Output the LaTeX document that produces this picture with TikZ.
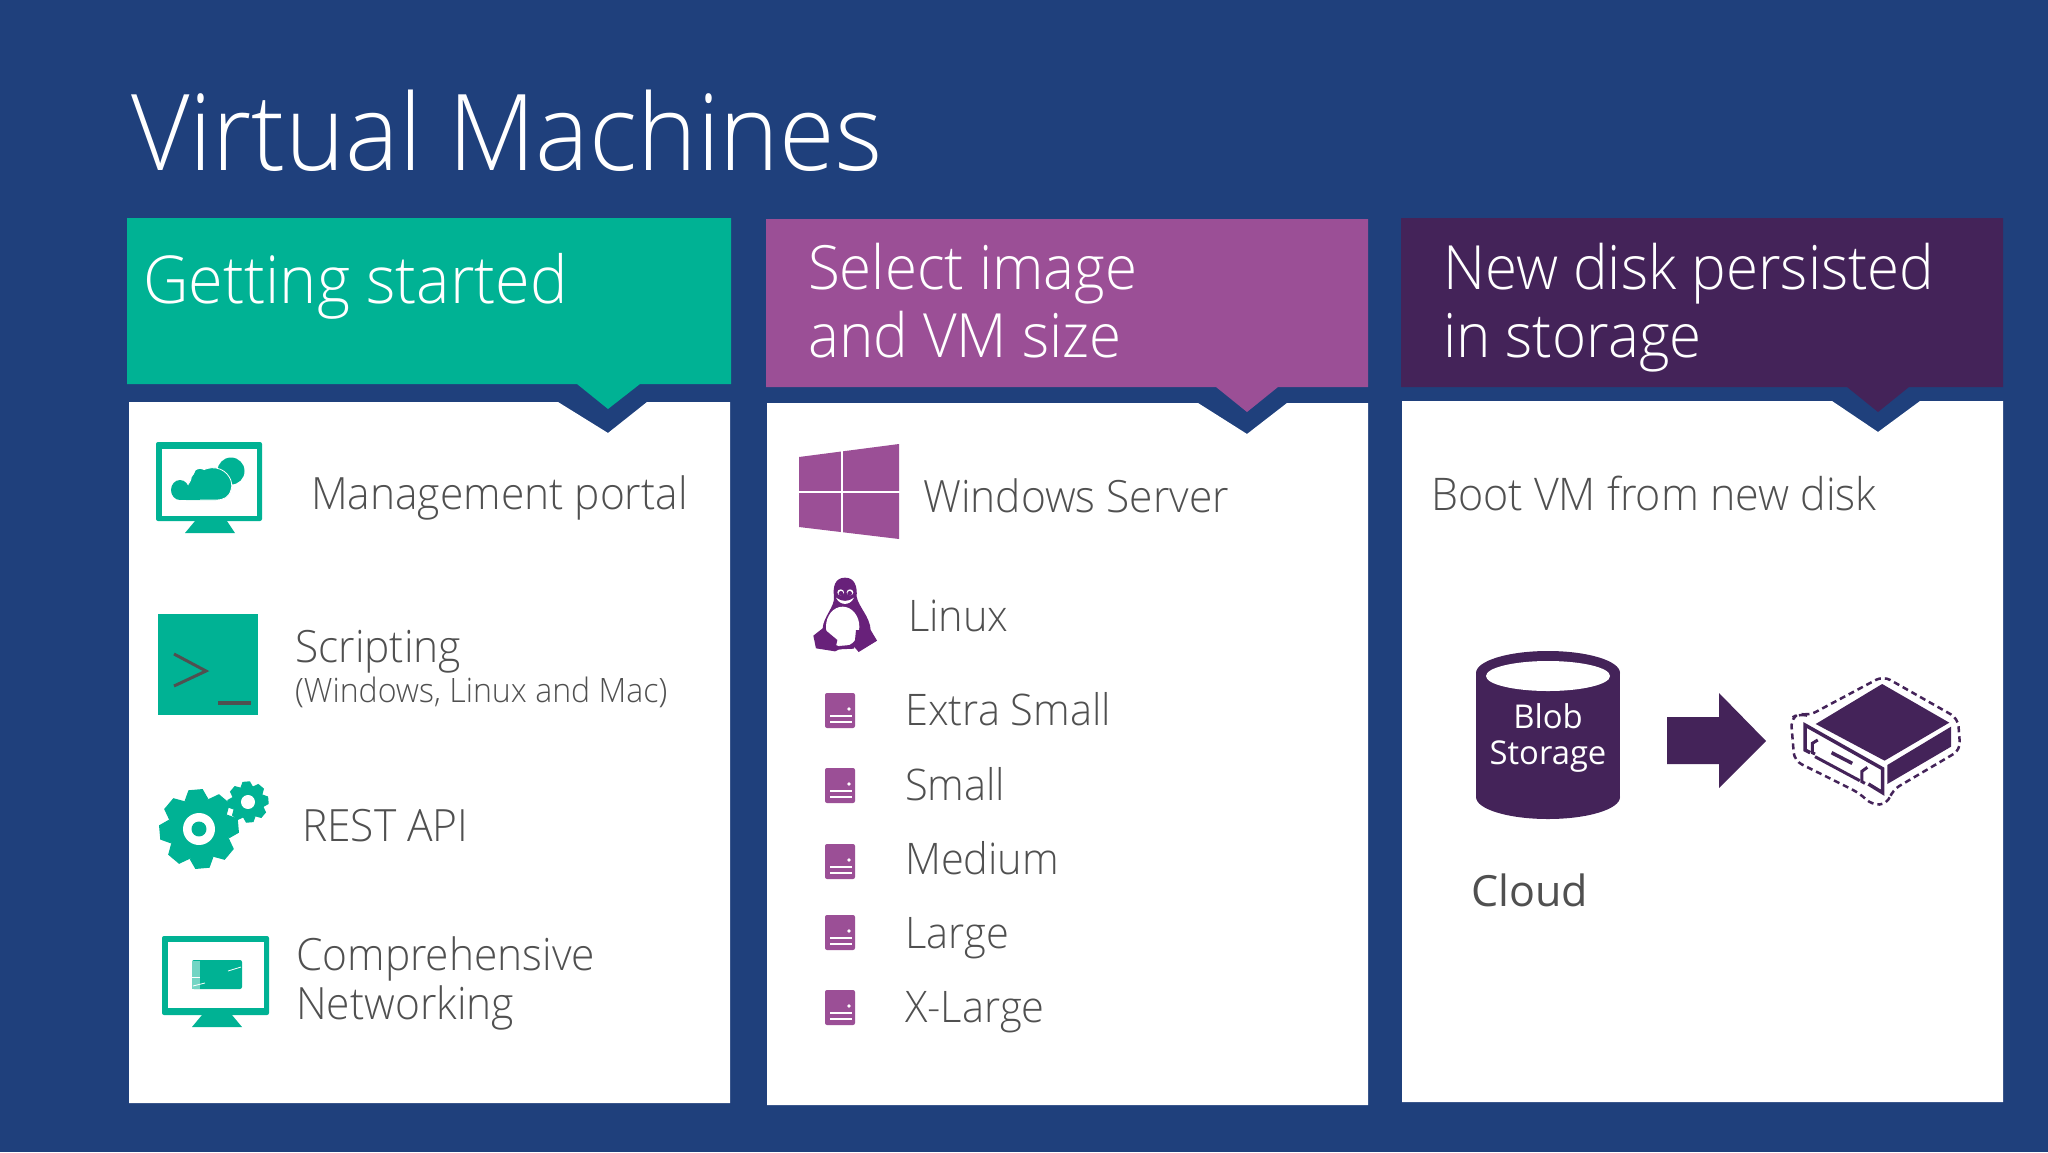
\documentclass[tikz,border=0pt]{standalone}
\usepackage{fontspec}
\usetikzlibrary{positioning}
\setmainfont{Open Sans}
\newfontfamily\lightfont[FakeStretch=0.955]{Open Sans Light}
\definecolor{slidebg}{RGB}{31,64,124}
\definecolor{tealc}{RGB}{0,178,148}
\definecolor{violetc}{RGB}{155,79,150}
\definecolor{plumc}{RGB}{68,35,89}
\definecolor{tuxc}{RGB}{104,33,122}
\definecolor{greytxt}{RGB}{80,80,80}

% gear: x, y, outer radius, hole radius, centre radius
\newcommand{\cog}[5]{
    \begin{scope}[shift={(#1,#2)},rotate=5]
        \fill [tealc] (0,0) circle (#3*0.78);
        \foreach \a in {0,45,...,315}
            \fill [tealc,rotate=\a] (-#3*0.31,#3*0.72) -- (-#3*0.18,#3) -- (#3*0.18,#3) -- (#3*0.31,#3*0.72) -- cycle;
        \fill [white] (0,0) circle (#4);
        \fill [tealc] (0,0) circle (#5);
    \end{scope}
}

\begin{document}
\begin{tikzpicture}[x=1pt,y=-1pt,line join=miter]
    \tikzstyle{title} = [inner sep=0,anchor=base west,text=white,font=\lightfont\fontsize{106}{106}\selectfont]
    \tikzstyle{head} = [inner sep=0,anchor=base west,align=left,text=white,font=\lightfont\fontsize{66}{68}\selectfont]
    \tikzstyle{headtwo} = [inner sep=0,anchor=north west,align=left,text=white,font=\lightfont\fontsize{61}{68}\selectfont]
    \tikzstyle{entry} = [inner sep=0,anchor=base west,align=left,text=greytxt,font=\lightfont\fontsize{44.5}{49}\selectfont]
    \tikzstyle{sizes} = [inner sep=0,anchor=base west,text=greytxt,font=\lightfont\fontsize{43.5}{49}\selectfont]
    \tikzstyle{small} = [inner sep=0,anchor=base west,text=greytxt,font=\lightfont\fontsize{33.6}{34}\selectfont]
    \tikzstyle{label} = [inner sep=0,anchor=base,text=white,font=\fontsize{32.8}{33}\selectfont]

    \useasboundingbox (0,0) rectangle (2048,1152);
    \fill [slidebg] (0,0) rectangle (2048,1152);

    \node (heading) [title] at (131,170) {Virtual Machines};

    % column headers
    \fill [tealc] (127,218) -- (731,218) -- (731,384) -- (640,384) -- (608,409) -- (577,384) -- (127,384) -- cycle;
    \fill [violetc] (766,219) -- (1368,219) -- (1368,387) -- (1278,387) -- (1247,412) -- (1216,387) -- (766,387) -- cycle;
    \fill [plumc] (1401,218) -- (2003,218) -- (2003,387) -- (1909,387) -- (1878,412) -- (1847,387) -- (1401,387) -- cycle;

    % white cards
    \fill [white] (129,402) -- (558,402) -- (608,433) -- (647,402) -- (730,402) -- (730,1103) -- (129,1103) -- cycle;
    \fill [white] (767,403) -- (1198,403) -- (1247,434) -- (1287,403) -- (1368,403) -- (1368,1105) -- (767,1105) -- cycle;
    \fill [white] (1402,401) -- (1832,401) -- (1878,432) -- (1920,401) -- (2003,401) -- (2003,1102) -- (1402,1102) -- cycle;

    \node (started) [head] at (143,303) {Getting started};
    \node (select) [headtwo] at (808,243) {Select image\\and VM size};
    \node (persist) [headtwo] at (1443,243) {New disk persisted\\in storage};

    % first column
    \node (portal) [entry] at (311,509) {Management portal};
    \node (script) [entry] at (295,662) {Scripting};
    \node (oses) [small] at (295,702) {(Windows, Linux and Mac)};
    \node (rest) [entry] at (302,841) {REST API};
    \node (network) [entry,anchor=north west] at (296,936) {Comprehensive\\Networking};

    % monitor with clouds
    \fill [tealc,rounded corners=2pt] (156,442) rectangle (262,521);
    \fill [white] (162,449) rectangle (257,516);
    \fill [tealc] (195,521) -- (227,521) -- (235,533) -- (185,533) -- cycle;
    \fill [tealc] (231,471) circle (13.5);
    \draw [white,fill=tealc,line width=0.8pt] (186,490) .. controls (190,475) and (205,466) .. (216,468) .. controls (228,470) and (234,482) .. (231,490) .. controls (229,497) and (224,500) .. (216,500) -- (186,500) -- cycle;
    \fill [tealc] (180,490) ellipse (9 and 10);
    \fill [tealc] (180,487) rectangle (200,500);
    \fill [tealc] (200,481) circle (9);
    \fill [tealc] (200,474) ellipse (6 and 5);

    % terminal
    \fill [tealc] (158,614) rectangle (258,715);
    \draw [greytxt,line width=3pt] (174,654) -- (206,671) -- (174,686);
    \draw [greytxt,line width=4pt] (218,703) -- (251,703);

    % gears
    \cog{199}{829}{39.5}{16}{7.5}
    \cog{248}{802}{20.5}{7}{0}

    % monitor with network card
    \fill [tealc,rounded corners=2pt] (162,936) rectangle (269,1015);
    \fill [white] (168,942) rectangle (264,1008);
    \fill [tealc] (202,1015) -- (232,1015) -- (242,1027) -- (192,1027) -- cycle;
    \fill [tealc,rounded corners=2pt] (192,960) rectangle (242,989);
    \fill [tealc!55!white] (192,961) rectangle (200,989);
    \draw [white,line width=0.8pt] (228,971) -- (241,967);
    \draw [white,line width=0.8pt] (192,977) -- (200,977);
    \draw [white,line width=0.8pt] (193,986) -- (205,983);

    % second column
    \node (windows) [entry] at (923,512) {Windows Server};
    \node (linux) [sizes] at (908,631) {Linux};
    \node (xsmall) [sizes] at (905,725) {Extra Small};
    \node (small) [sizes] at (905,800) {Small};
    \node (medium) [sizes] at (905,874) {Medium};
    \node (large) [sizes] at (905,948) {Large};
    \node (xlarge) [sizes] at (905,1022) {X-Large};

    % windows logo
    \fill [violetc] (799,457) -- (899,444) -- (899,539) -- (799,527) -- cycle;
    \draw [white,line width=2pt] (842,440) -- (842,545);
    \draw [white,line width=2pt] (795,492) -- (903,492);

    % penguin
    \begin{scope}[shift={(780,430)},scale=1/3]
        \fill [tuxc] (195,443) .. controls (225,443) and (232,470) .. (230,500) .. controls (235,530) and (270,560) .. (272,600) -- (291,632) -- (236,666) -- (224,652) -- (178,658) -- (165,664) -- (108,655) -- (100,617) -- (128,595) .. controls (130,560) and (165,530) .. (162,500) .. controls (158,470) and (165,443) .. (195,443) -- cycle;
        \fill [white] (188,590) ellipse (50 and 60);
        \fill [tuxc] (136,600) -- (104,620) -- (108,652) -- (165,662) -- (172,630) -- cycle;
        \fill [tuxc] (228,600) -- (270,600) -- (290,632) -- (236,664) -- (224,640) -- cycle;
        \fill [tuxc] (178,648) -- (222,644) -- (222,656) -- (178,658) -- cycle;
        \fill [white] (182,487) ellipse (10 and 9);
        \fill [white] (210,487) ellipse (10 and 9);
        \fill [tuxc] (183,490) ellipse (7 and 7);
        \fill [tuxc] (209,490) ellipse (7 and 7);
        \fill [white] (168,503) .. controls (185,516) and (205,516) .. (222,503) .. controls (210,528) and (180,528) .. (168,503) -- cycle;
    \end{scope}

    % size icons
    \foreach \ypos in {710,785,861,932,1007} {
        \fill [violetc,rounded corners=2pt] (825,\ypos-17) rectangle (855,\ypos+18);
        \fill [white] (849,\ypos-1) circle (1.8);
        \draw [white,line width=1.2pt] (830,\ypos+6) -- (852,\ypos+6);
        \draw [white,line width=1.2pt] (830,\ypos+12) -- (852,\ypos+12);
    }

    % third column
    \node (boot) [inner sep=0,anchor=base west,text=greytxt,font=\lightfont\fontsize{45}{49}\selectfont] at (1431,510) {Boot VM from new disk};
    \node (cloud) [inner sep=0,anchor=base west,text=greytxt,font=\fontsize{43}{43}\selectfont] at (1471,906) {Cloud};

    % blob cylinder
    \fill [plumc] (1476,673) rectangle (1620,797);
    \fill [plumc] (1548,797) ellipse (72 and 22);
    \fill [plumc] (1548,673) ellipse (72 and 22);
    \fill [white] (1548,676) ellipse (62 and 15);
    \node (blob) [label] at (1548,728) {Blob};
    \node (storage) [label] at (1548,764) {Storage};

    % block arrow
    \fill [plumc] (1667,717) -- (1719,717) -- (1719,693) -- (1766,741) -- (1719,788) -- (1719,764) -- (1667,764) -- cycle;

    % server
    \begin{scope}[shift={(1450,630)},xscale=1/2.904,yscale=1/3]
        \draw [plumc,line width=2.5pt,dash pattern=on 6pt off 4pt,rounded corners=8pt] (1015,250) -- (1040,258) -- (1258,138) -- (1475,265) -- (1482,360) -- (1285,480) -- (1270,522) -- (1225,525) -- (1190,490) -- (1000,392) -- (990,265) -- cycle;
        \fill [plumc] (1062,282) -- (1255,162) -- (1450,278) -- (1262,392) -- cycle;
        \fill [plumc] (1270,405) -- (1455,290) -- (1455,350) -- (1270,462) -- cycle;
        \draw [plumc,line width=3.5pt] (1046,368) -- (1031,360) -- (1031,285) -- (1256,416) -- (1256,488) -- (1215,462);
        \draw [plumc,line width=3pt] (1068,330) -- (1052,340) -- (1052,368) -- (1060,372);
        \draw [plumc,line width=3pt] (1060,380) -- (1190,452);
        \draw [plumc,line width=3.5pt] (1108,368) -- (1168,400);
        \draw [plumc,line width=3pt] (1212,412) -- (1196,424) -- (1196,455) -- (1205,460);
    \end{scope}
\end{tikzpicture}
\end{document}
